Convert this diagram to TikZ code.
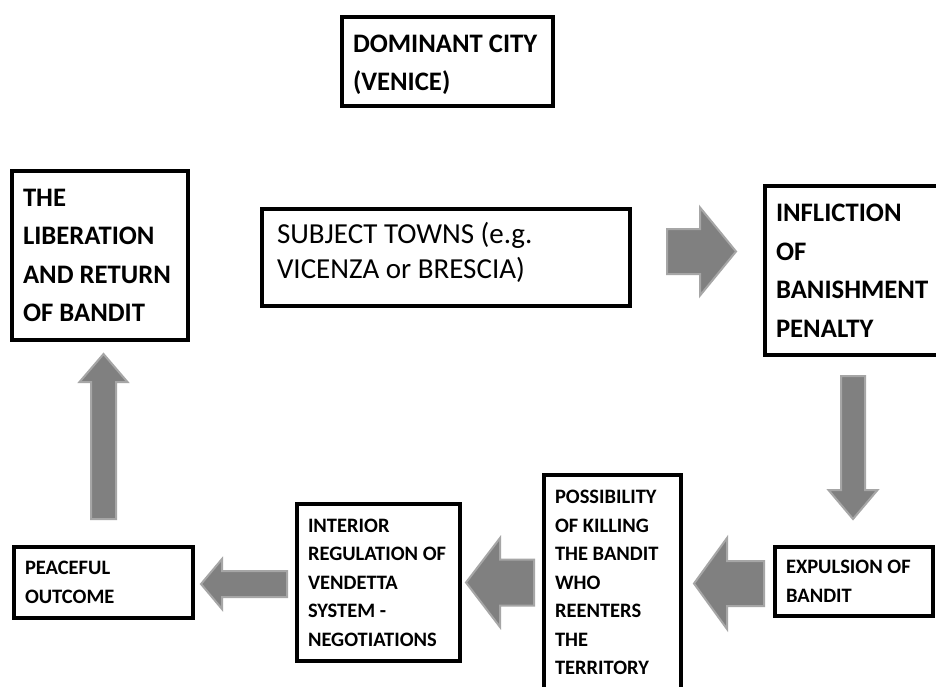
\documentclass[tikz,border=0pt]{standalone}
\usepackage{fontspec}
\setmainfont{Carlito}
\usepackage{xcolor}
\usepackage{tikz}
\usetikzlibrary{calc}
\definecolor{arrowfill}{HTML}{808080}
\definecolor{arrowedge}{HTML}{A6A6A6}
\hyphenpenalty=10000
\exhyphenpenalty=10000

\begin{document}
\begin{tikzpicture}[x=1pt,y=-1pt,
  every node/.style={font=\bfseries\fontsize{26.7}{38.5}\selectfont},
  bigbox/.style={rectangle,draw,line width=4.5pt,align=flush left,inner xsep=11pt,inner ysep=0pt},
  smallbox/.style={bigbox,font=\bfseries\fontsize{20.5}{28.5}\selectfont},
  blockarrow/.style n args={3}{draw=arrowedge,fill=arrowfill,line width=2pt,
    to path={-- ($(\tikztostart)!#1!90:(\tikztotarget)$)
      -- ($(\tikztotarget)!#3!(\tikztostart)!#1!90:(\tikztotarget)$)
      -- ($(\tikztotarget)!#3!(\tikztostart)!#2!90:(\tikztotarget)$)
      -- (\tikztotarget)
      -- ($(\tikztotarget)!#3!(\tikztostart)!#2!-90:(\tikztotarget)$)
      -- ($(\tikztotarget)!#3!(\tikztostart)!#1!-90:(\tikztotarget)$)
      -- ($(\tikztostart)!#1!-90:(\tikztotarget)$) -- cycle}}
]
\path[use as bounding box,fill=white] (0,0) rectangle (936,686);

\node[bigbox,text width=189pt,minimum height=89pt,text height=18pt,text depth=37pt] (venice) at (447.5,61.5) {DOMINANT~CITY\\(VENICE)};
\node[bigbox,text width=154pt,minimum height=169pt] (liberation) at (100,255.5) {THE\\LIBERATION\\AND~RETURN\\OF~BANDIT};
\node[bigbox,text width=338pt,inner xsep=15pt,minimum height=97pt,text height=20pt,text depth=49pt,
  font=\fontsize{29}{35.5}\selectfont] (towns) at (446,257.5) {SUBJECT~TOWNS~(e.g.\\VICENZA~or~BRESCIA)};
\node[bigbox,text width=151pt,minimum height=169pt] (penalty) at (851.5,270.5) {INFLICTION\\OF\\BANISHMENT\\PENALTY};

\node[smallbox,text width=157pt,minimum height=71pt] (peace) at (103.5,582.5) {PEACEFUL\\OUTCOME};
\node[smallbox,text width=141pt,minimum height=157pt] (vendetta) at (378.5,582.5) {INTERIOR\\REGULATION~OF\\VENDETTA\\SYSTEM~-\\NEGOTIATIONS};
\node[smallbox,text width=115pt,minimum height=215pt] (killing) at (612.5,582.5) {POSSIBILITY\\OF~KILLING\\THE~BANDIT\\WHO\\REENTERS\\THE\\TERRITORY};
\node[smallbox,text width=136pt,minimum height=69pt] (expulsion) at (854,581.5) {EXPULSION~OF\\BANDIT};

% block arrows round the cycle
\coordinate (r0) at (667,251.5);   \coordinate (r1) at (736,251.5);
\coordinate (d0) at (853,376);     \coordinate (d1) at (853,519);
\coordinate (l0) at (764,583.5);   \coordinate (l1) at (694,583.5);
\coordinate (m0) at (534,582.5);   \coordinate (m1) at (466,582.5);
\coordinate (n0) at (287,584);     \coordinate (n1) at (201,584);
\coordinate (u0) at (103.5,519);   \coordinate (u1) at (103.5,354);

\foreach \a/\b/\w/\h/\l in {r0/r1/22.5pt/44pt/36pt, d0/d1/12pt/24.5pt/29pt,
    l0/l1/22.5pt/45.5pt/33pt, m0/m1/23pt/44.5pt/34pt,
    n0/n1/13pt/25pt/21pt, u0/u1/12.5pt/24pt/28pt}
  \draw[blockarrow={\w}{\h}{\l}] (\a) to (\b);
\end{tikzpicture}
\end{document}
